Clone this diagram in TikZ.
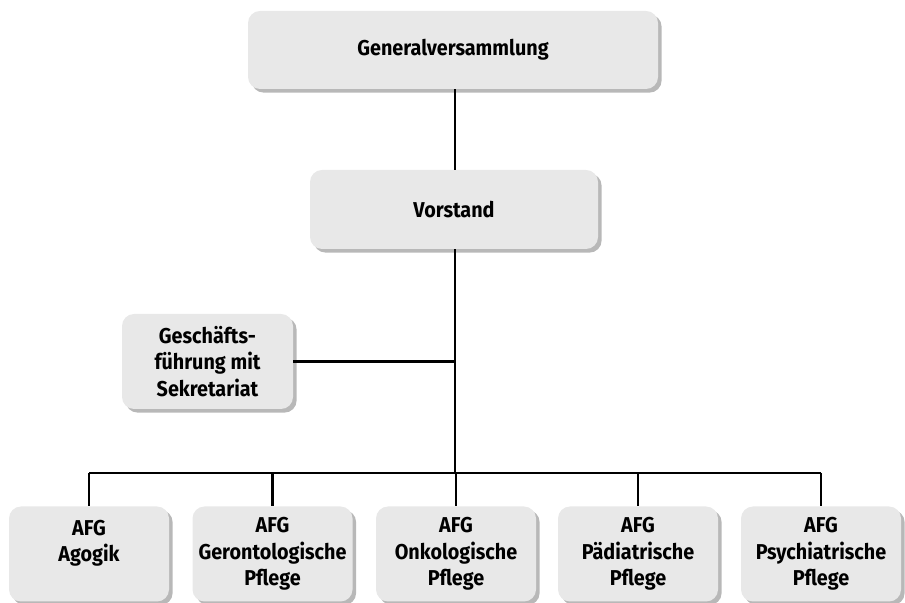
\documentclass[tikz,border=0pt]{standalone}
\usepackage{fontspec}
\setsansfont{Fira Sans}[FakeStretch=0.92]
\usepackage{tikz}
\usetikzlibrary{calc,positioning,shadows}
\definecolor{boxgray}{RGB}{232,232,232}
\tikzset{orgbox/.style={draw=none, fill=boxgray, rounded corners=6pt,
    drop shadow={fill=black, opacity=0.28, shadow xshift=1.8pt, shadow yshift=-1.8pt},
    align=center, inner sep=0pt, font=\sffamily\bfseries\fontsize{10.75}{13.3}\selectfont},
  afgbox/.style={orgbox, minimum width=80pt, minimum height=47.5pt},
  orgline/.style={line width=1.3pt, black}}

\begin{document}
\begin{tikzpicture}[x=0.5pt, y=-0.5pt]
  \useasboundingbox (0,0) rectangle (905,603);
  % top of the tree
  \node[orgbox, minimum width=205pt, minimum height=39pt] (gv) at (453,50) {Generalversammlung};
  \node[orgbox, minimum width=144pt, minimum height=39.5pt] (vs) at (454,209.5) {Vorstand};
  \node[orgbox, minimum width=85.5pt, minimum height=47.5pt] (gf) at (207.5,361.5) {Gesch\"afts-\\f\"uhrung mit\\Sekretariat};
  % working groups
  \node[afgbox] (agogik) at (89,554) {AFG\\Agogik\\\mbox{}};
  \node[afgbox] (geronto) at (272.5,554) {AFG\\Gerontologische\\Pflege};
  \node[afgbox] (onko) at (456,554) {AFG\\Onkologische\\Pflege};
  \node[afgbox] (paed) at (638,554) {AFG\\P\"adiatrische\\Pflege};
  \node[afgbox] (psych) at (821,554) {AFG\\Psychiatrische\\Pflege};
  \coordinate (bus) at (455,473);
  \draw[orgline] (gv.south -| bus) -- (vs.north -| bus);
  \draw[orgline] (vs.south -| bus) -- (bus);
  \draw[orgline] (gf.east) -- (gf.east -| bus);
  \draw[orgline] (bus -| agogik.north) -- (bus -| psych.north);
  \foreach \g in {agogik,geronto,onko,paed,psych}
    \draw[orgline] (bus -| \g.north) -- (\g.north);
\end{tikzpicture}
\end{document}
